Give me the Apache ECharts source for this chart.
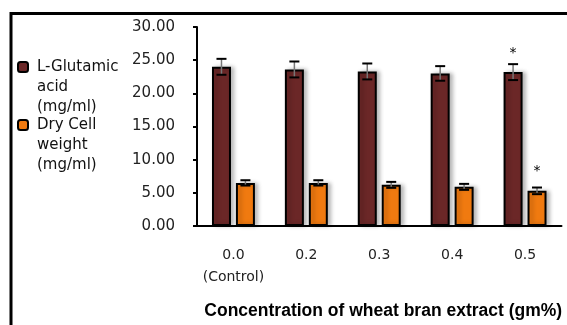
<!DOCTYPE html>
<html>
<head>
<meta charset="utf-8">
<script src="https://cdn.jsdelivr.net/npm/echarts@6/dist/echarts.min.js"></script>
<style>html,body{margin:0;padding:0;background:#fff}#c{width:567px;height:325px}</style>
</head>
<body>
<div id="c"></div>
<script>
var categories = ['0.0\n(Control)', '0.2', '0.3', '0.4', '0.5'];
var glutamic = [24.0, 23.6, 23.3, 23.0, 23.2];
var glutamicErr = [1.2, 1.2, 1.2, 1.1, 1.2];
var dryCell = [6.5, 6.5, 6.2, 5.9, 5.3];
var dryCellErr = [0.4, 0.4, 0.45, 0.45, 0.5];
var starGlutamic = [false, false, false, false, true];
var starDryCell = [false, false, false, false, true];
var yTicks = [0, 5, 10, 15, 20, 25, 30];
var nameGlu = 'L-Glutamic acid (mg/ml)';
var nameDry = 'Dry Cell weight (mg/ml)';
var legendLines = {};
legendLines[nameGlu] = ['L-Glutamic', 'acid', '(mg/ml)'];
legendLines[nameDry] = ['Dry Cell', 'weight', '(mg/ml)'];

var BAR_W = 19, BAR_GAP = 0.26;
var OFFSET = (BAR_W + BAR_W * BAR_GAP) / 2;
var RED = '#6b2727', ORANGE = '#f07a10';

function barData(vals, stars) {
  return vals.map(function (v, i) {
    var d = { value: v };
    if (stars[i]) {
      d.label = { show: true, position: 'top', distance: 12, formatter: '*', fontSize: 14, color: '#000', fontFamily: 'DejaVu Sans' };
    }
    return d;
  });
}
function errData(vals, errs) {
  return vals.map(function (v, i) { return [i, v - errs[i], v + errs[i]]; });
}
function errRender(off) {
  return function (params, api) {
    var x = api.value(0);
    var lo = api.coord([x, api.value(1)]);
    var hi = api.coord([x, api.value(2)]);
    var cx = lo[0] + off;
    var hw = 5;
    return {
      type: 'group',
      children: [
        { type: 'line', shape: { x1: cx, y1: hi[1], x2: cx, y2: lo[1] }, style: { stroke: '#777', lineWidth: 1.5 } },
        { type: 'line', shape: { x1: cx - hw, y1: hi[1], x2: cx + hw, y2: hi[1] }, style: { stroke: '#000', lineWidth: 2 } },
        { type: 'line', shape: { x1: cx - hw, y1: lo[1], x2: cx + hw, y2: lo[1] }, style: { stroke: '#000', lineWidth: 2 } }
      ]
    };
  };
}
// two blank lines first so the first text line sits level with the icon
function legendFmt(n) { return '\n\n' + legendLines[n].join('\n'); }
var legendText = { fontFamily: 'DejaVu Sans', fontSize: 15, color: '#111', lineHeight: 20, padding: [0, 0, 0, 4] };

var chart = echarts.init(document.getElementById('c'), null, { renderer: 'canvas' });
chart.setOption({
  animation: false,
  backgroundColor: '#fff',
  grid: { left: 197, right: 5.5, top: 27, bottom: 99, containLabel: false, outerBoundsMode: 'none' },
  legend: [
    { data: [nameGlu], left: 17, top: 17, padding: 0, orient: 'vertical', itemWidth: 10, itemHeight: 10,
      formatter: legendFmt, textStyle: legendText, selectedMode: false },
    { data: [nameDry], left: 17, top: 75, padding: 0, orient: 'vertical', itemWidth: 10, itemHeight: 10,
      formatter: legendFmt, textStyle: legendText, selectedMode: false }
  ],
  xAxis: {
    type: 'category',
    data: categories,
    axisLine: { lineStyle: { color: '#000', width: 2 } },
    axisTick: { show: false },
    axisLabel: { interval: 0, margin: 18, fontFamily: 'DejaVu Sans', fontSize: 14, color: '#222', lineHeight: 22 },
    name: 'Concentration of wheat bran extract (gm%)',
    nameLocation: 'middle',
    nameGap: 76,
    nameTextStyle: { fontFamily: 'Liberation Sans', fontWeight: 'bold', fontSize: 17.5, color: '#000', padding: [0, 0, 0, 8] }
  },
  yAxis: {
    type: 'value',
    min: yTicks[0], max: yTicks[yTicks.length - 1], interval: 5,
    axisLine: { show: true, lineStyle: { color: '#000', width: 2 } },
    axisTick: { show: true, length: 4, lineStyle: { color: '#000', width: 2 } },
    splitLine: { show: false },
    axisLabel: { margin: 22, fontFamily: 'DejaVu Sans', fontSize: 15, color: '#222', formatter: function (v) { return v.toFixed(2); } }
  },
  series: [
    { name: nameGlu, type: 'bar', barWidth: BAR_W, barGap: (BAR_GAP * 100) + '%', data: barData(glutamic, starGlutamic),
      itemStyle: { color: RED, borderColor: '#000', borderWidth: 2, shadowColor: 'rgba(0,0,0,0.25)', shadowBlur: 4, shadowOffsetX: 3, shadowOffsetY: 0 } },
    { name: nameDry, type: 'bar', barWidth: BAR_W, data: barData(dryCell, starDryCell),
      itemStyle: { color: ORANGE, borderColor: '#000', borderWidth: 2, shadowColor: 'rgba(0,0,0,0.25)', shadowBlur: 4, shadowOffsetX: 3, shadowOffsetY: 0 } },
    { type: 'custom', renderItem: errRender(-OFFSET), data: errData(glutamic, glutamicErr), z: 5, silent: true },
    { type: 'custom', renderItem: errRender(OFFSET), data: errData(dryCell, dryCellErr), z: 5, silent: true }
  ],
  graphic: [
    { type: 'polyline', shape: { points: [[11, 325], [11, 13.5], [567, 13.5]] }, style: { stroke: '#000', lineWidth: 3, fill: null }, z: 10 }
  ]
});
</script>
</body>
</html>
